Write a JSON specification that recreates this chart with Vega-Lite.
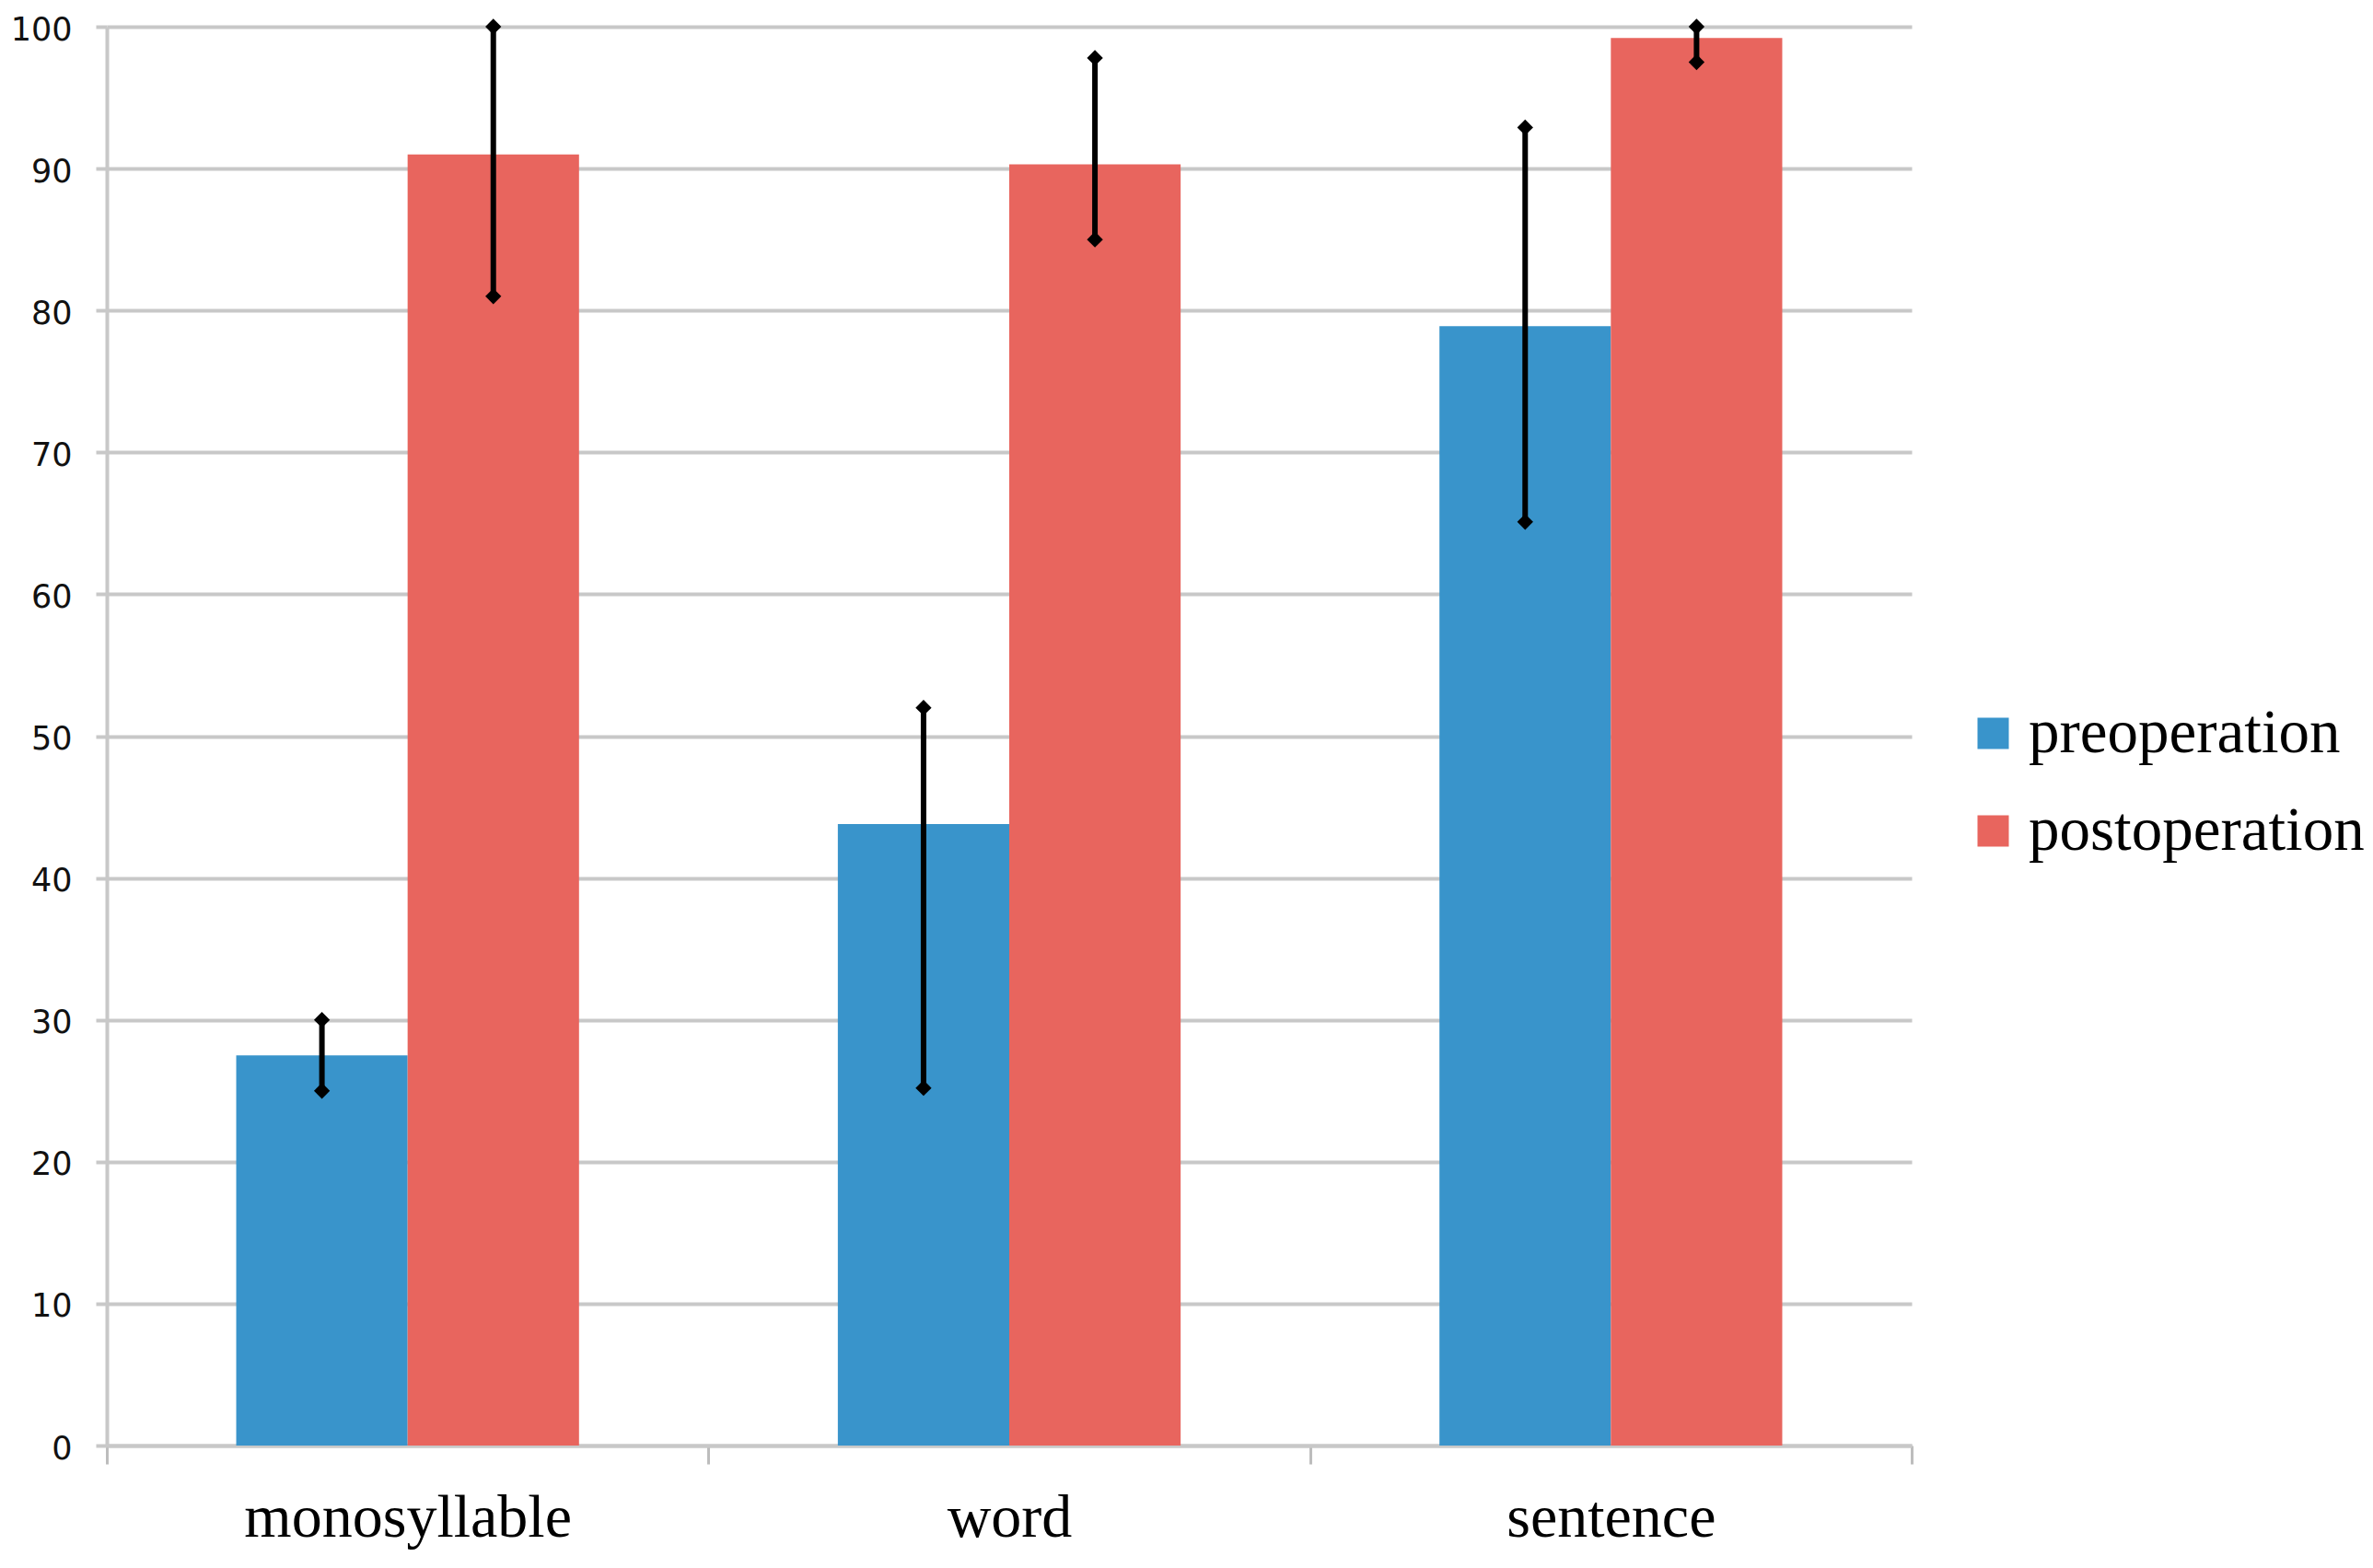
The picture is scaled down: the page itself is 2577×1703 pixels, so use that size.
{
  "$schema": "https://vega.github.io/schema/vega-lite/v6.json",
  "autosize": {"type": "none"},
  "width": 1960,
  "height": 1541,
  "padding": {"left": 116, "top": 29, "right": 501, "bottom": 133},
  "background": "white",
  "config": {"view": {"stroke": null}},
  "data": {
    "values": [
      {"category": "monosyllable", "group": "preoperation", "value": 27.5, "lo": 25.0, "hi": 30.0},
      {"category": "monosyllable", "group": "postoperation", "value": 91.0, "lo": 81.0, "hi": 100.0},
      {"category": "word", "group": "preoperation", "value": 43.8, "lo": 25.2, "hi": 52.0},
      {"category": "word", "group": "postoperation", "value": 90.3, "lo": 85.0, "hi": 97.8},
      {"category": "sentence", "group": "preoperation", "value": 78.9, "lo": 65.1, "hi": 92.9},
      {"category": "sentence", "group": "postoperation", "value": 99.2, "lo": 97.5, "hi": 100.0}
    ]
  },
  "encoding": {
    "x": {
      "field": "category",
      "type": "nominal",
      "sort": ["monosyllable", "word", "sentence"],
      "scale": {"paddingInner": 0, "paddingOuter": 0},
      "axis": {
        "title": null,
        "labelAngle": 0,
        "labelFont": "Liberation Serif",
        "labelFontSize": 66,
        "labelColor": "#000000",
        "labelPadding": 26,
        "labelLimit": 0,
        "tickBand": "extent",
        "tickSize": 20,
        "tickWidth": 3,
        "tickColor": "#bdbdbd",
        "domainColor": "#c8c8c8",
        "domainWidth": 4,
        "grid": false
      }
    },
    "xOffset": {
      "field": "group",
      "type": "nominal",
      "sort": ["preoperation", "postoperation"],
      "scale": {"paddingInner": 0, "paddingOuter": 0.755}
    }
  },
  "layer": [
    {
      "mark": {"type": "bar"},
      "encoding": {
        "y": {
          "field": "value",
          "type": "quantitative",
          "scale": {"domain": [0, 100], "nice": false},
          "axis": {
            "title": null,
            "values": [0, 10, 20, 30, 40, 50, 60, 70, 80, 90, 100],
            "labelFont": "DejaVu Sans",
            "labelFontSize": 35,
            "labelColor": "#111111",
            "labelPadding": 26,
            "labelOffset": 3,
            "tickSize": 12,
            "tickWidth": 4,
            "tickColor": "#c8c8c8",
            "domainColor": "#c8c8c8",
            "domainWidth": 4,
            "grid": true,
            "gridColor": "#c8c8c8",
            "gridWidth": 4
          }
        },
        "color": {
          "field": "group",
          "type": "nominal",
          "sort": ["preoperation", "postoperation"],
          "scale": {"domain": ["preoperation", "postoperation"], "range": ["#3994CB", "#E8655E"]},
          "legend": {
            "title": null,
            "orient": "none",
            "legendX": 2015,
            "legendY": 734,
            "padding": 0,
            "symbolType": "square",
            "symbolSize": 1156,
            "symbolStrokeWidth": 0,
            "labelFont": "Liberation Serif",
            "labelFontSize": 67,
            "labelColor": "#000000",
            "labelOffset": 5,
            "labelLimit": 0,
            "rowPadding": 38
          }
        }
      }
    },
    {
      "mark": {"type": "rule", "color": "#000000", "strokeWidth": 6},
      "encoding": {
        "y": {"field": "lo", "type": "quantitative"},
        "y2": {"field": "hi"}
      }
    },
    {
      "mark": {"type": "point", "shape": "diamond", "filled": true, "color": "#000000", "opacity": 1, "size": 300},
      "encoding": {
        "y": {"field": "lo", "type": "quantitative"}
      }
    },
    {
      "mark": {"type": "point", "shape": "diamond", "filled": true, "color": "#000000", "opacity": 1, "size": 300},
      "encoding": {
        "y": {"field": "hi", "type": "quantitative"}
      }
    }
  ]
}
